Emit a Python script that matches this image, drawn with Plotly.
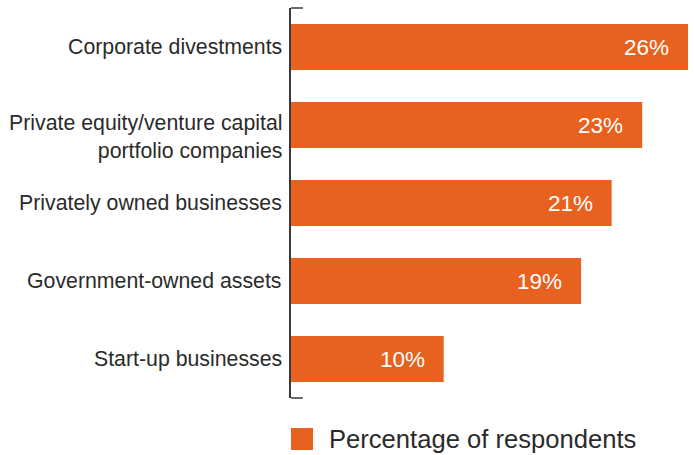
import plotly.graph_objects as go

# Survey results: share of respondents by target type
categories = [
    "Corporate divestments",
    "Private equity/venture capital<br>portfolio companies",
    "Privately owned businesses",
    "Government-owned assets",
    "Start-up businesses",
]
values = [26, 23, 21, 19, 10]
value_labels = ["26%", "23%", "21%", "19%", "10%"]
series_name = "Percentage of respondents"

ORANGE = "#E8611F"
TEXT = "#2b2b2b"
AXIS = "#3a3a3a"
FONT = "Liberation Sans, Arial, sans-serif"

fig = go.Figure(
    go.Bar(
        x=values,
        y=categories,
        orientation="h",
        marker=dict(color=ORANGE, line=dict(width=0)),
        name=series_name,
        showlegend=False,
        hoverinfo="skip",
    )
)

# category labels, right-aligned against the axis line
for cat in categories:
    two_line = "<br>" in cat
    fig.add_annotation(
        x=0, y=cat, text=cat, showarrow=False,
        xanchor="right", yanchor="middle", align="right",
        xshift=-7, yshift=-12 if two_line else 0,
        font=dict(family=FONT, size=21.3, color=TEXT),
    )

# value labels inside the bar ends
for cat, val, lab in zip(categories, values, value_labels):
    fig.add_annotation(
        x=val, y=cat, text=lab, showarrow=False,
        xanchor="right", yanchor="middle", xshift=-17,
        font=dict(family=FONT, size=22.5, color="white"),
    )

# small end caps at the top and bottom of the category axis
for yd in (1, 0):
    fig.add_shape(
        type="line", xref="x domain", yref="y domain",
        x0=0, x1=0.03, y0=yd, y1=yd,
        line=dict(color=AXIS, width=1.5),
    )

# legend swatch and label
fig.add_shape(
    type="rect", xref="paper", yref="paper",
    xsizemode="pixel", ysizemode="pixel",
    xanchor=0, yanchor=0,
    x0=0, x1=22, y0=-30, y1=-52,
    fillcolor=ORANGE, line=dict(width=0),
)
fig.add_annotation(
    xref="paper", yref="paper", x=0, y=0,
    xshift=36, yshift=-41, xanchor="left", yanchor="middle",
    text=series_name, showarrow=False,
    font=dict(family=FONT, size=25.6, color=TEXT),
)

fig.update_layout(
    width=694, height=455,
    margin=dict(l=291, r=6, t=8, b=57),
    paper_bgcolor="white", plot_bgcolor="white",
    bargap=0.41,
    font=dict(family=FONT, size=21.3, color=TEXT),
)
fig.update_xaxes(
    range=[0, 26], showgrid=False, zeroline=False,
    showticklabels=False, ticks="", showline=False,
)
fig.update_yaxes(
    categoryorder="array", categoryarray=categories,
    range=[len(categories) - 0.5, -0.5],
    showgrid=False, zeroline=False, ticks="",
    showline=True, linecolor=AXIS, linewidth=1.5,
    showticklabels=False,
)

fig.write_html("out.html")
